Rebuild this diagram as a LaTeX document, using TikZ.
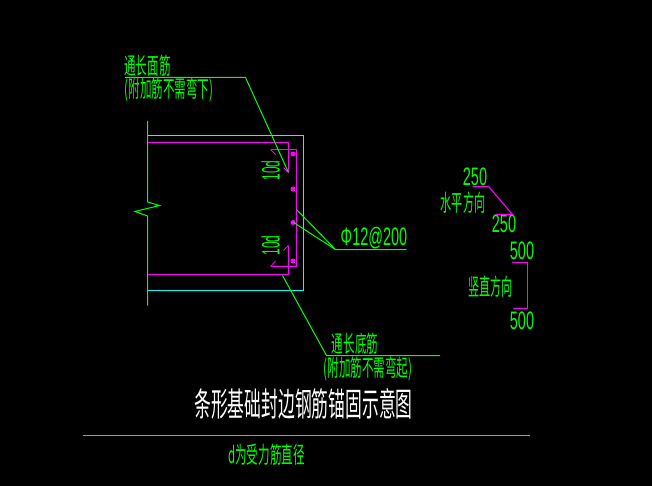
\documentclass[tikz,border=0pt]{standalone}
\usepackage{fontspec}
\usepackage{graphicx}
\setmainfont{Noto Sans CJK SC}
\newfontfamily\numfont{Liberation Sans}
\definecolor{cadgreen}{RGB}{0,255,0}
\definecolor{cadcyan}{RGB}{0,255,255}
\definecolor{cadpink}{RGB}{255,0,255}
\newcommand{\narrow}[2]{\scalebox{#1}[1.1]{#2}}
\usetikzlibrary{positioning}

\begin{document}
\begin{tikzpicture}[x=1pt,y=-1pt,line width=1pt]
    \tikzstyle{label}=[text=cadgreen,inner sep=0pt]
    \tikzstyle{note}=[label,font=\fontsize{21}{21}\selectfont]
    \tikzstyle{size}=[label,font=\numfont\fontsize{23}{23}\selectfont]
    \tikzstyle{wall}=[draw=cadgreen]
    \tikzstyle{leader}=[draw=cadgreen,line width=1pt]
    \tikzstyle{bar}=[draw=cadpink,line width=1.1pt]
    \tikzstyle{tick}=[draw=cadpink,line width=.8pt]

    \fill[black] (0,0) rectangle (652,486);
    \useasboundingbox (0,0) rectangle (652,486);

    % wall and concrete edge
    \draw[wall] (147.5,121) -- (147.5,202) -- (159.5,205.5) -- (135,211.5)
                -- (147.5,216) -- (147.5,305.5);
    \draw[cadcyan] (147.5,135.5) -- (303.5,135.5) -- (303.5,290.5) -- (147.5,290.5);

    % reinforcement
    \draw[bar] (147.5,142.5) -- (288.5,142.5) -- (288.5,172.5);
    \draw[bar] (147.5,274.5) -- (288.5,274.5) -- (288.5,245.5);
    \draw[bar] (270.5,149.5) -- (296.5,149.5) -- (296.5,266.5) -- (270.5,266.5);
    \draw[tick] (283.5,167.5) -- (288.5,172.5);
    \draw[tick] (283.5,250.5) -- (288.5,245.5);
    \draw[tick] (270.5,149.5) -- (275.5,154.5);
    \draw[tick] (270.5,266.5) -- (275.5,261);
    \foreach \y in {154,189,222.5,261}
      \fill[cadpink] (293,\y) circle (2.5);

    % texts
    \node[note] (topa)  at (147.5,65.5)  {\narrow{.55}{通长面筋}};
    \node[note] (topb)  at (169,90)      {\narrow{.55}{(附加筋不需弯下)}};
    \node[note] (bota)  at (355,343.5)   {\narrow{.55}{通长底筋}};
    \node[note] (botb)  at (368,368.5)   {\narrow{.55}{(附加筋不需弯起)}};
    \node[note] (horiz) at (463,202.5)   {\narrow{.53}{水平方向}};
    \node[note] (vert)  at (490.5,287)   {\narrow{.53}{竖直方向}};
    \node[label,text=white,font=\fontsize{30}{30}\selectfont]
                (title) at (303.5,403.5) {\narrow{.56}{条形基础封边钢筋锚固示意图}};
    \node[note] (dnote) at (266.5,455)   {\narrow{.55}{d为受力筋直径}};

    \node[size,rotate=90] (lena) at (270.5,170.5) {\narrow{.52}{10d}};
    \node[size,rotate=90] (lenb) at (270.5,245.5) {\narrow{.52}{10d}};
    \node[size] (rebar) at (374,238)   {\narrow{.63}{Φ12@200}};
    \node[size] (hupp)  at (475,177)   {\narrow{.63}{250}};
    \node[size] (hlow)  at (504,224)   {\narrow{.63}{250}};
    \node[size] (vupp)  at (522,250.5) {\narrow{.63}{500}};
    \node[size] (vlow)  at (522,321)   {\narrow{.63}{500}};

    % leaders
    \coordinate (ltop)  at (125,77.5);
    \coordinate (lknee) at (245.5,77.5);
    \coordinate (ltip)  at (288.5,172.5);
    \coordinate (rend)  at (406.5,249.5);
    \coordinate (rknee) at (335.5,249.5);
    \coordinate (rtipa) at (296.5,209.5);
    \coordinate (rtipb) at (293.5,222.5);
    \coordinate (bend)  at (440,355.5);
    \coordinate (bknee) at (326.5,355.5);
    \coordinate (btip)  at (282.5,275.5);

    \draw[leader] (ltop) -- (lknee) -- (ltip);
    \draw[leader] (rend) -- (rknee) -- (rtipa);
    \draw[leader] (rknee) -- (rtipb);
    \draw[leader] (bend) -- (bknee) -- (btip);

    % size marks
    \draw[bar] (472.5,186.5) -- (488.5,186.5) -- (512.5,214.5) -- (496,214.5);
    \draw[bar] (512,262.5) -- (527.5,262.5) -- (527.5,308.5) -- (513,308.5);

    % rule under the title
    \coordinate (rulea) at (83,435.5);
    \coordinate (ruleb) at (530,435.5);
    \draw[wall] (rulea) -- (ruleb);
\end{tikzpicture}
\end{document}
